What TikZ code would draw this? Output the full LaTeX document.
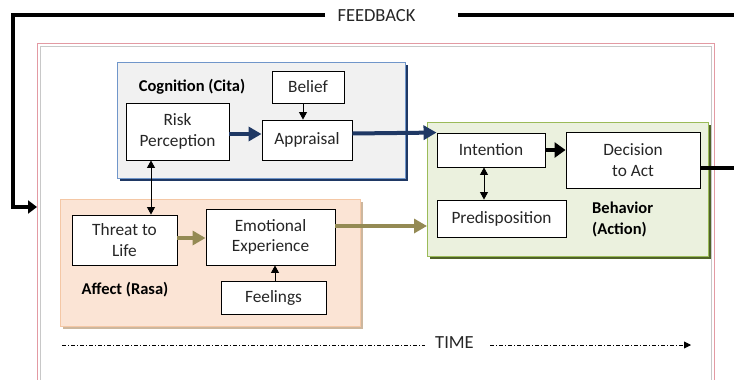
\documentclass[tikz,border=0pt]{standalone}
\usepackage{fontspec}
\setmainfont{Carlito}
\usetikzlibrary{arrows.meta}
\definecolor{cogfill}{HTML}{F1F1F1}
\definecolor{cogline}{HTML}{7096CA}
\definecolor{cogshadow}{HTML}{1F3864}
\definecolor{behfill}{HTML}{EBF1DE}
\definecolor{behline}{HTML}{9BBB59}
\definecolor{behshadow}{HTML}{4F6228}
\definecolor{afffill}{HTML}{FBE4D5}
\definecolor{affline}{HTML}{F4C7A5}
\definecolor{affshadow}{HTML}{CDB79E}
\definecolor{olivearrow}{HTML}{948A54}
\definecolor{bluearrow}{HTML}{1F3864}
\definecolor{pinkline}{HTML}{E39AA3}
\definecolor{greyline}{HTML}{C8C8C8}
\definecolor{txt}{HTML}{262626}
\tikzset{
  box/.style={draw=black, line width=0.9pt, fill=white, text=txt, align=center,
    inner sep=0pt, font=\fontsize{17.3}{19.5}\selectfont},
  grplabel/.style={font=\fontsize{16.5}{20}\selectfont\bfseries, align=left, inner sep=0pt},
  thin arrow/.style={draw=black, line width=0.9pt, -{Triangle[length=7.5pt,width=8pt]}},
  thin double/.style={draw=black, line width=0.9pt, {Triangle[length=7.5pt,width=8pt]}-{Triangle[length=7.5pt,width=8pt]}},
  blue arrow/.style={draw=bluearrow, line width=4pt, -{Triangle[length=13pt,width=14pt]}},
  olive arrow/.style={draw=olivearrow, line width=4pt, -{Triangle[length=13pt,width=14pt]}},
  black arrow/.style={draw=black, line width=4pt, -{Triangle[length=11pt,width=15pt]}},
  black line/.style={draw=black, line width=4pt},
  fbline/.style={draw=black, line width=3.5pt},
  plain/.style={text=txt, inner sep=0pt, font=\fontsize{18.5}{21}\selectfont},
  timeline/.style={draw=black, line width=0.9pt, dash pattern=on 4pt off 2pt on 1pt off 2pt}
}
\begin{document}
\begin{tikzpicture}[x=1pt,y=-1pt]
\useasboundingbox (0,0) rectangle (734,380);
\fill[white] (0,0) rectangle (734,380);
% outer frame
\draw[pinkline, line width=1pt] (37,380) -- (37,43) -- (714,43) -- (714,380);
\draw[greyline, line width=1pt] (40,380) -- (40,46) -- (711,46) -- (711,380);
% group boxes with shadows
\fill[cogshadow] (120,65) rectangle (407.5,181);
\draw[cogline, fill=cogfill, line width=1pt] (117,62) rectangle (405,178);
\fill[behshadow] (430,125) rectangle (710.5,259);
\draw[behline, fill=behfill, line width=1pt] (427,122) rectangle (708,256);
\fill[affshadow] (63,202) rectangle (362.5,328.5);
\draw[affline, fill=afffill, line width=1pt] (60,199) rectangle (360,326);
% group labels
\node[grplabel] (cogl) at (192,87) {Cognition (Cita)};
\node[grplabel, anchor=west] (behl) at (592,219) {Behavior\\[1pt](Action)};
\node[grplabel] (affl) at (125,290) {Affect (Rasa)};
% nodes
\node[box, minimum width=72pt, minimum height=32pt] (belief) at (308,87) {Belief};
\node[box, minimum width=103pt, minimum height=57pt] (risk) at (177.5,131.5) {Risk\\[1pt]Perception};
\node[box, minimum width=90pt, minimum height=40pt] (appr) at (307,140) {Appraisal};
\node[box, minimum width=108pt, minimum height=34pt] (intent) at (491,150) {Intention};
\node[box, minimum width=134pt, minimum height=56pt] (decision) at (633,160) {Decision\\[1pt]to Act};
\node[box, minimum width=129pt, minimum height=37pt] (predisp) at (501.5,218.5) {Predisposition};
\node[box, minimum width=105pt, minimum height=50pt] (threat) at (124.5,240) {Threat to\\[1pt]Life};
\node[box, minimum width=129pt, minimum height=56pt] (emot) at (270.5,237) {Emotional\\[1pt]Experience};
\node[box, minimum width=105pt, minimum height=33pt] (feel) at (273.5,297.5) {Feelings};
% connectors
\draw[blue arrow] (risk.east |- 0,134) -- (appr.west |- 0,134);
\draw[blue arrow] (appr.east |- 0,133.5) -- (intent.north west);
\draw[thin arrow] (belief.south -| 303,0) -- (appr.north -| 303,0);
\draw[thin double] (risk.south -| 151,0) -- (threat.north -| 151,0);
\draw[thin arrow] (feel.north -| 275,0) -- (emot.south -| 275,0);
\draw[thin double] (intent.south -| 484,0) -- (predisp.north -| 484,0);
\draw[black arrow] (intent.east) -- (decision.west |- intent.east);
\coordinate (outR) at (734,168);
\draw[black line] (decision.east |- outR) -- (outR);
\draw[olive arrow] (threat.east |- 0,238) -- (emot.west |- 0,238);
\coordinate (behW) at (427,226);
\draw[olive arrow] (emot.east |- behW) -- (behW);
% feedback
\node[plain] (fb) at (376.5,16) {FEEDBACK};
\coordinate (fbR) at (734,15);
\coordinate (fbC) at (13,15);
\coordinate (fbD) at (13,207);
\coordinate (fbT) at (37,207);
\draw[fbline] (fbR) -- (458,15);
\draw[fbline, -{Triangle[length=9pt,width=13pt]}] (325,15) -- (fbC) -- (fbD) -- (fbT);
% time
\node[plain] (time) at (454.5,343) {TIME};
\coordinate (t0) at (62,345);
\coordinate (t1) at (425,345);
\coordinate (t2) at (490,345);
\coordinate (t3) at (691,345);
\draw[timeline] (t0) -- (t1);
\draw[timeline, -{Triangle[length=7pt,width=7pt]}] (t2) -- (t3);
\end{tikzpicture}
\end{document}
